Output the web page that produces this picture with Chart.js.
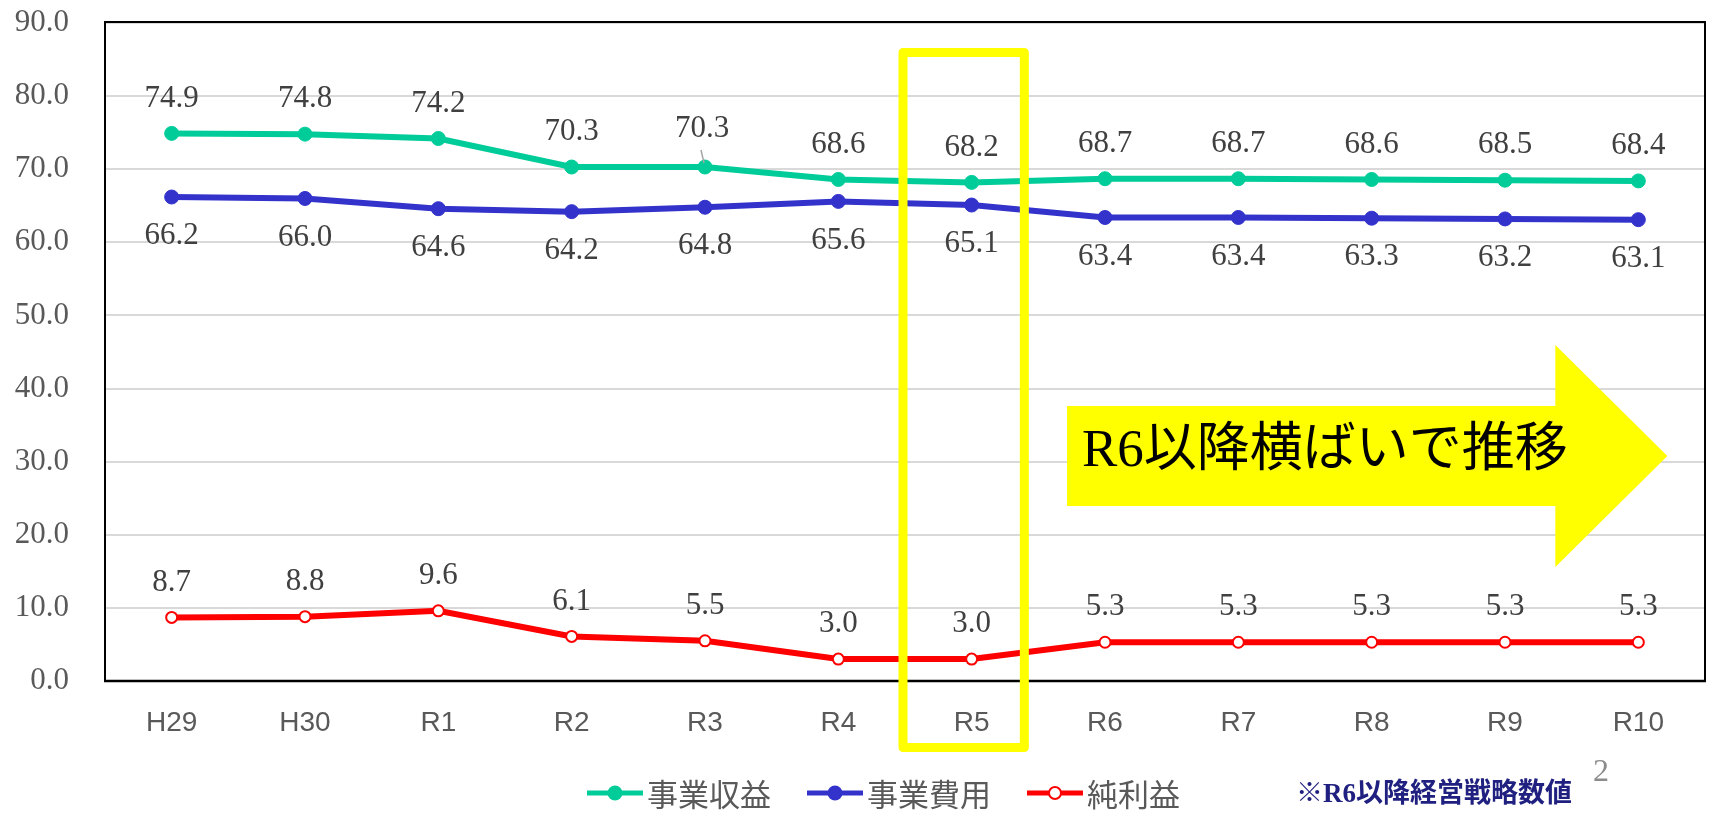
<!DOCTYPE html>
<html lang="ja">
<head>
<meta charset="UTF-8">
<title>事業収益・事業費用・純利益の推移</title>
<script src="https://cdn.jsdelivr.net/npm/chart.js@4.4.0/dist/chart.umd.min.js"></script>
<style>
  html, body { margin: 0; padding: 0; background: #fff; }
  #wrap { width: 1713px; height: 813px; }
</style>
</head>
<body>
<div id="wrap"><canvas id="line-chart" width="1713" height="813"></canvas></div>
<script>
// fiscal years
const years = ['H29', 'H30', 'R1', 'R2', 'R3', 'R4', 'R5', 'R6', 'R7', 'R8', 'R9', 'R10'];
// 事業収益 / 事業費用 / 純利益
const revenue   = [74.9, 74.8, 74.2, 70.3, 70.3, 68.6, 68.2, 68.7, 68.7, 68.6, 68.5, 68.4];
const expenses  = [66.2, 66.0, 64.6, 64.2, 64.8, 65.6, 65.1, 63.4, 63.4, 63.3, 63.2, 63.1];
const netIncome = [8.7, 8.8, 9.6, 6.1, 5.5, 3.0, 3.0, 5.3, 5.3, 5.3, 5.3, 5.3];
const seriesNames = ['事業収益', '事業費用', '純利益'];
// value axis
const yMin = 0;
const yMax = 90;
const yStep = 10;

const highlightYear = 'R5';
const trendText = 'R6以降横ばいで推移';
const footNote = '※R6以降経営戦略数値';
const pageNo = '2';

const GREEN = '#00cc99';
const BLUE = '#3333cc';
const RED = '#ff0000';
const SERIF = '"Liberation Serif", "Times New Roman", serif';
const JP = '"Noto Sans CJK JP", sans-serif';

// label offsets (px) above / below each series' points
const labelOffsets = [-35, 39, -35];
// one label in the revenue row sits a bit higher with a leader line
const leader = { series: 0, index: 4, lift: 3 };

const plotFrame = {
    id: 'plotFrame',
    beforeDatasetsDraw(chart) {
        const { ctx, chartArea: a } = chart;
        ctx.save();
        ctx.strokeStyle = '#000';
        ctx.lineWidth = 2;
        ctx.beginPath();
        ctx.moveTo(a.left, a.bottom);
        ctx.lineTo(a.left, a.top - 1);
        ctx.lineTo(a.right, a.top - 1);
        ctx.lineTo(a.right, a.bottom);
        ctx.stroke();
        ctx.lineWidth = 2.5;
        ctx.beginPath();
        ctx.moveTo(a.left - 1, a.bottom);
        ctx.lineTo(a.right + 1, a.bottom);
        ctx.stroke();
        ctx.restore();
    }
};

const valueLabels = {
    id: 'valueLabels',
    afterDatasetsDraw(chart) {
        const { ctx } = chart;
        ctx.save();
        ctx.font = '31px ' + SERIF;
        ctx.fillStyle = '#404040';
        ctx.textAlign = 'center';
        ctx.textBaseline = 'middle';
        chart.data.datasets.forEach((ds, i) => {
            const meta = chart.getDatasetMeta(i);
            meta.data.forEach((pt, j) => {
                let y = pt.y + labelOffsets[i];
                let x = pt.x;
                if (i === leader.series && j === leader.index) {
                    y -= leader.lift;
                    x -= 3;
                    ctx.save();
                    ctx.strokeStyle = '#a6a6a6';
                    ctx.lineWidth = 1.5;
                    ctx.beginPath();
                    ctx.moveTo(pt.x - 4, pt.y - 17);
                    ctx.lineTo(pt.x - 1, pt.y - 4);
                    ctx.stroke();
                    ctx.restore();
                }
                ctx.fillText(ds.data[j].toFixed(1), x, y);
            });
        });
        ctx.restore();
    }
};

const overlays = {
    id: 'overlays',
    afterDraw(chart) {
        const { ctx, scales } = chart;
        const x = scales.x;
        ctx.save();

        // trend arrow
        const step = x.getPixelForValue(1) - x.getPixelForValue(0);
        const left = x.getPixelForValue(7) - 38;
        const neck = x.getPixelForValue(11) - 83;
        const tip = x.getPixelForValue(11) + 29;
        ctx.fillStyle = '#ffff00';
        ctx.beginPath();
        ctx.moveTo(left, 406);
        ctx.lineTo(neck, 406);
        ctx.lineTo(neck, 345);
        ctx.lineTo(tip, 456);
        ctx.lineTo(neck, 567);
        ctx.lineTo(neck, 506);
        ctx.lineTo(left, 506);
        ctx.closePath();
        ctx.fill();
        ctx.fillStyle = '#000';
        ctx.font = '53px ' + SERIF + ', ' + JP;
        ctx.textAlign = 'left';
        ctx.textBaseline = 'middle';
        ctx.fillText(trendText, left + 15, 452);

        // highlight box around the current year
        const hx = x.getPixelForValue(years.indexOf(highlightYear)) - 8;
        const w = step * 0.91;
        ctx.strokeStyle = '#ffff00';
        ctx.lineWidth = 9;
        ctx.lineJoin = 'round';
        ctx.strokeRect(hx - w / 2, 52.5, w, 695);

        // legend
        const cy = 793;
        let lx = 587;
        ctx.font = '31px ' + JP;
        ctx.textBaseline = 'middle';
        chart.data.datasets.forEach((ds) => {
            const hollow = ds.pointBackgroundColor === '#ffffff';
            ctx.strokeStyle = ds.borderColor;
            ctx.lineWidth = 5;
            ctx.beginPath();
            ctx.moveTo(lx, cy);
            ctx.lineTo(lx + 56, cy);
            ctx.stroke();
            ctx.beginPath();
            ctx.arc(lx + 28, cy, hollow ? 6 : 7.5, 0, Math.PI * 2);
            ctx.fillStyle = ds.pointBackgroundColor;
            ctx.fill();
            if (hollow) {
                ctx.lineWidth = 2;
                ctx.stroke();
            }
            ctx.fillStyle = '#595959';
            ctx.fillText(ds.label, lx + 60, cy + 1);
            lx += 60 + ctx.measureText(ds.label).width + 36;
        });

        ctx.font = 'bold 27px ' + SERIF + ', ' + JP;
        ctx.fillStyle = '#202080';
        ctx.fillText(footNote, 1296, cy + 2);

        ctx.font = '32px ' + SERIF;
        ctx.fillStyle = '#8c8c8c';
        ctx.textAlign = 'center';
        ctx.fillText(pageNo, 1601, 773);
        ctx.restore();
    }
};

function initLineChart() {
    const ctx = document.getElementById('line-chart').getContext('2d');
    return new Chart(ctx, {
        type: 'line',
        data: {
            labels: years,
            datasets: [{
                label: seriesNames[0],
                data: revenue,
                borderColor: GREEN,
                backgroundColor: GREEN,
                pointBackgroundColor: GREEN,
                pointBorderColor: GREEN,
                borderWidth: 6,
                pointRadius: 7,
                pointBorderWidth: 1,
                tension: 0
            }, {
                label: seriesNames[1],
                data: expenses,
                borderColor: BLUE,
                backgroundColor: BLUE,
                pointBackgroundColor: BLUE,
                pointBorderColor: BLUE,
                borderWidth: 6,
                pointRadius: 7,
                pointBorderWidth: 1,
                tension: 0
            }, {
                label: seriesNames[2],
                data: netIncome,
                borderColor: RED,
                backgroundColor: RED,
                pointBackgroundColor: '#ffffff',
                pointBorderColor: RED,
                borderWidth: 6,
                pointRadius: 5.5,
                pointBorderWidth: 2,
                tension: 0
            }]
        },
        options: {
            responsive: false,
            devicePixelRatio: 1,
            animation: false,
            layout: {
                padding: { top: 23, right: 1, bottom: 72, left: 0 }
            },
            plugins: {
                legend: { display: false },
                tooltip: { enabled: false }
            },
            scales: {
                x: {
                    offset: true,
                    grid: { display: false },
                    border: { display: false },
                    ticks: {
                        color: '#595959',
                        padding: 17,
                        font: { size: 28, family: '"Liberation Sans", Arial, sans-serif' }
                    },
                    afterFit(scale) { scale.height = 60; }
                },
                y: {
                    min: yMin,
                    max: yMax,
                    border: { display: false },
                    grid: {
                        color: '#d9d9d9',
                        lineWidth: 2,
                        drawTicks: true,
                        tickLength: 36,
                        tickColor: 'rgba(0,0,0,0)'
                    },
                    ticks: {
                        stepSize: yStep,
                        color: '#595959',
                        padding: 0,
                        font: { size: 31, family: SERIF },
                        callback: (v) => v.toFixed(1)
                    },
                    afterFit(scale) { scale.width = 105; }
                }
            }
        },
        plugins: [plotFrame, valueLabels, overlays]
    });
}

document.addEventListener('DOMContentLoaded', () => {
    initLineChart();
});
</script>
</body>
</html>
